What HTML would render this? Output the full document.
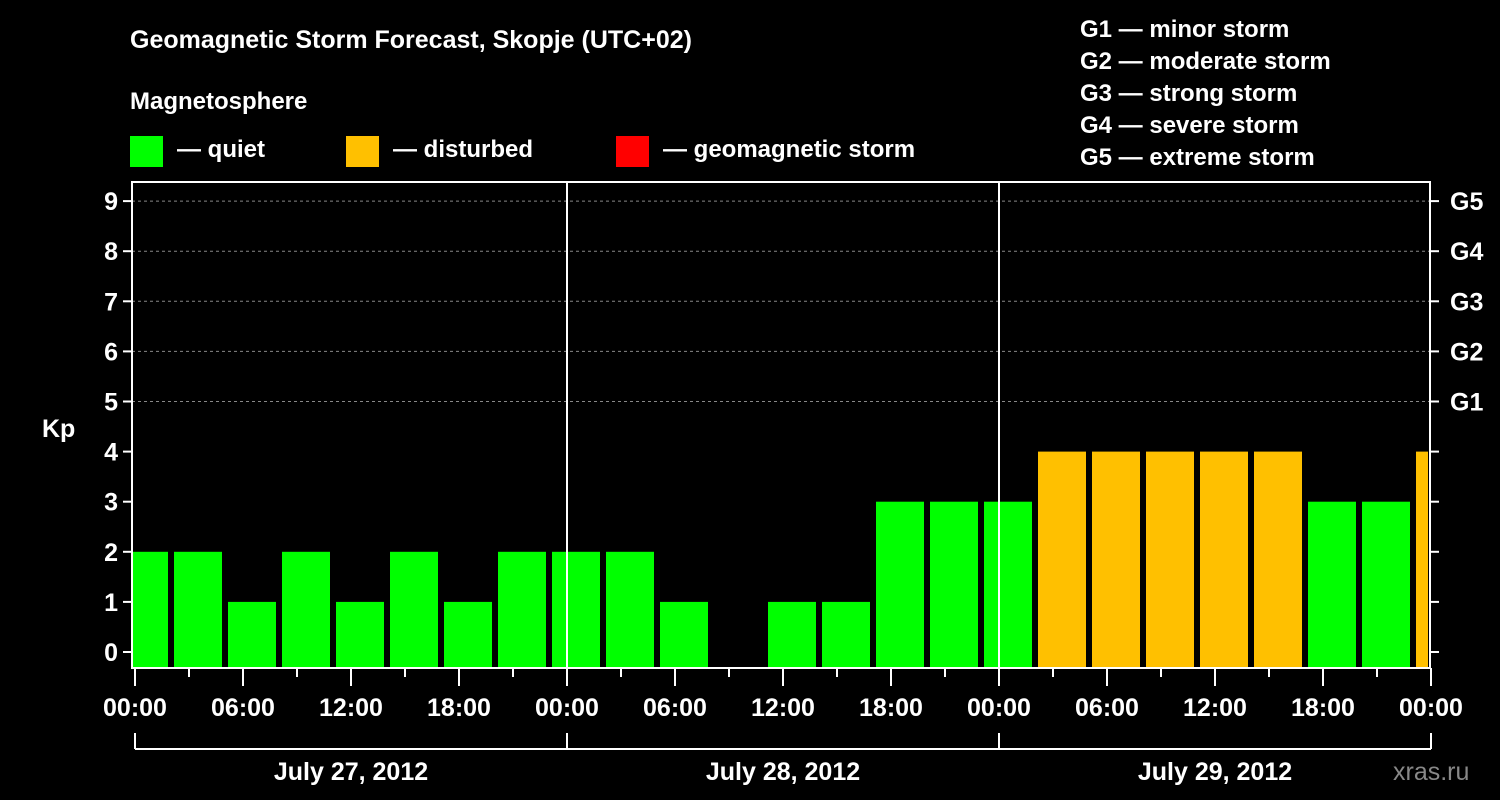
<!DOCTYPE html>
<html><head><meta charset="utf-8"><style>
body{margin:0;background:#000;}
svg{display:block;font-family:"Liberation Sans",Arial,sans-serif;font-weight:bold;}
</style></head><body>
<svg id="c" width="1500" height="800" viewBox="0 0 1500 800">
<text x="130" y="48" fill="#fff" font-size="25">Geomagnetic Storm Forecast, Skopje (UTC+02)</text>
<text x="130" y="109" fill="#fff" font-size="24">Magnetosphere</text>
<g>
<rect x="130" y="136" width="33" height="31" fill="#00ff00"/>
<text x="177" y="157" fill="#fff" font-size="24">— quiet</text>
<rect x="346" y="136" width="33" height="31" fill="#ffc000"/>
<text x="393" y="157" fill="#fff" font-size="24">— disturbed</text>
<rect x="616" y="136" width="33" height="31" fill="#ff0000"/>
<text x="663" y="157" fill="#fff" font-size="24">— geomagnetic storm</text>
</g>
<g fill="#fff" font-size="24">
<text x="1080" y="37">G1 — minor storm</text>
<text x="1080" y="69">G2 — moderate storm</text>
<text x="1080" y="101">G3 — strong storm</text>
<text x="1080" y="133">G4 — severe storm</text>
<text x="1080" y="165">G5 — extreme storm</text>
</g>
<text x="42" y="437" fill="#fff" font-size="25">Kp</text>
<text x="1393" y="780" fill="#888" font-size="25" font-weight="normal">xras.ru</text>
<g id="plot"></g>
</svg>
<script>
const kpValues=[2,2,1,2,1,2,1,2,2,2,1,0,1,1,3,3,3,4,4,4,4,4,3,3,4];
const barHours=[0.5,3.5,6.5,9.5,12.5,15.5,18.5,21.5,24.5,27.5,30.5,33.5,36.5,39.5,42.5,45.5,48.5,51.5,54.5,57.5,60.5,63.5,66.5,69.5,72.5];
const xTickLabels=["00:00","06:00","12:00","18:00","00:00","06:00","12:00","18:00","00:00","06:00","12:00","18:00","00:00"];
const dayLabels=["July 27, 2012","July 28, 2012","July 29, 2012"];
const yTicks=[0,1,2,3,4,5,6,7,8,9];
const gLabels={5:"G1",6:"G2",7:"G3",8:"G4",9:"G5"};
const NS="http://www.w3.org/2000/svg";
const X0=135,PX_H=18,L=132,R=1430,T=182,B=668;
const x=h=>X0+h*PX_H;
const y=v=>652-v*50.1;
const g=document.getElementById('plot');
function el(t,a){const e=document.createElementNS(NS,t);for(const k in a)e.setAttribute(k,a[k]);g.appendChild(e);return e;}
// grid
yTicks.forEach(v=>{if(v>=5){const l=el('line',{x1:L,x2:R,y1:y(v),y2:y(v),stroke:'#888','stroke-dasharray':'3,3','stroke-width':1});

}});
// bars
const cp=el('clipPath',{id:'pc'});const cr=document.createElementNS(NS,'rect');cr.setAttribute('x',L+1);cr.setAttribute('y',T);cr.setAttribute('width',R-L-3);cr.setAttribute('height',B-T);cp.appendChild(cr);
kpValues.forEach((v,i)=>{if(v<=0)return;const c=x(barHours[i]);
const r=el('rect',{x:c-24,width:48,y:y(v),height:B-y(v),fill:v>=5?'#ff0000':v>=4?'#ffc000':'#00ff00','clip-path':'url(#pc)'});

});
// day lines
[24,48].forEach(h=>{const l=el('line',{x1:x(h),x2:x(h),y1:T,y2:B,stroke:'#fff','stroke-width':2});

});
// frame
const f=el('rect',{x:L,y:T,width:R-L,height:B-T,fill:'none',stroke:'#fff','stroke-width':2});


// y ticks
yTicks.forEach(v=>{el('line',{x1:L-9,x2:L,y1:y(v),y2:y(v),stroke:'#fff','stroke-width':2});
el('line',{x1:R,x2:R+9,y1:y(v),y2:y(v),stroke:'#fff','stroke-width':2});
const t=el('text',{x:L-14,y:y(v)+9,fill:'#fff','font-size':25,'text-anchor':'end'});t.textContent=v;


if(gLabels[v]){const t2=el('text',{x:1450,y:y(v)+9,fill:'#fff','font-size':25});t2.textContent=gLabels[v];

}});
// x ticks
for(let h=0;h<=72;h+=3){const major=h%6===0;el('line',{x1:x(h),x2:x(h),y1:B,y2:major?686:677,stroke:'#fff','stroke-width':2});}
xTickLabels.forEach((s,i)=>{const t=el('text',{x:x(i*6),y:716,fill:'#fff','font-size':25,'text-anchor':'middle'});t.textContent=s;

});
// day brackets
el('line',{x1:x(0),x2:x(72),y1:749,y2:749,stroke:'#fff','stroke-width':2});
[0,24,48,72].forEach(h=>el('line',{x1:x(h),x2:x(h),y1:733,y2:749,stroke:'#fff','stroke-width':2}));
dayLabels.forEach((s,i)=>{const t=el('text',{x:x(i*24+12),y:780,fill:'#fff','font-size':25,'text-anchor':'middle'});t.textContent=s;

});
</script>
</body></html>
